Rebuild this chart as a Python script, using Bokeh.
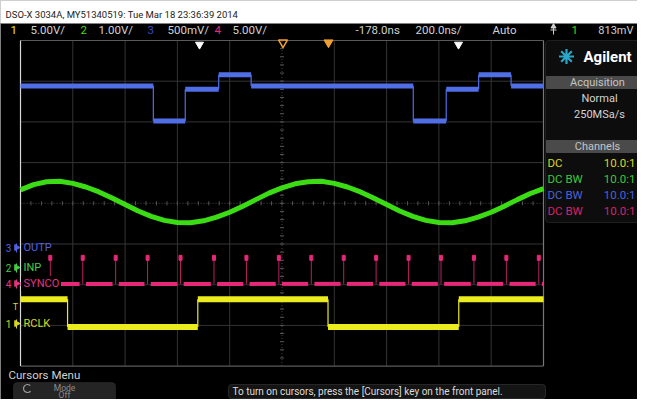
import numpy as np
from bokeh.plotting import figure
from bokeh.models import Range1d, BoxAnnotation
from bokeh.core.properties import value
from bokeh.embed import file_html
from bokeh.resources import INLINE

# ---------------- data (time in divisions of 200 ns, level in screen divisions) -------------
outp_t = [0.0, 2.54, 3.15, 3.79, 4.41, 7.51, 8.14, 8.76, 9.38, 10.0]
outp_v = [6.88, 6.02, 6.80, 7.16, 6.88, 6.02, 6.80, 7.16, 6.88]

inp_t = [0.0, 0.25, 0.5, 0.75, 1.0, 1.25, 1.5, 1.75, 2.0, 2.25, 2.5, 2.75, 3.0, 3.25,
         3.5, 3.75, 4.0, 4.25, 4.5, 4.75, 5.0, 5.25, 5.5, 5.75, 6.0, 6.25, 6.5, 6.75,
         7.0, 7.25, 7.5, 7.75, 8.0, 8.25, 8.5, 8.75, 9.0, 9.25, 9.5, 9.75, 10.0]
inp_v = [4.33, 4.46, 4.53, 4.54, 4.49, 4.40, 4.28, 4.13, 3.97, 3.81, 3.68, 3.58, 3.53, 3.52,
         3.57, 3.66, 3.78, 3.93, 4.09, 4.25, 4.38, 4.48, 4.53, 4.54, 4.49, 4.40, 4.28, 4.13,
         3.97, 3.81, 3.68, 3.58, 3.53, 3.52, 3.57, 3.66, 3.78, 3.93, 4.09, 4.24, 4.36]

sync_t = [0.57, 1.19, 1.82, 2.43, 3.06, 3.70, 4.32, 4.94, 5.56, 6.18, 6.80, 7.42, 8.04,
          8.67, 9.29, 9.91]
sync_low = 2.02
sync_high = 2.66

rclk_t = [0.0, 0.90, 3.39, 5.88, 8.38, 10.0]
rclk_v = [1.64, 0.96, 1.64, 0.96, 1.64]

trace_names = ["OUTP", "INP", "SYNCO", "RCLK"]
trace_nums = ["3", "2", "4", "1"]

title_text = "DSO-X 3034A, MY51340519: Tue Mar 18 23:36:39 2014"
status_text = ["1", "5.00V/", "2", "1.00V/", "3", "500mV/", "4", "5.00V/",
               "-178.0ns", "200.0ns/", "Auto", "1"]
status_right = "813mV"
chan_mode = ["DC", "DC BW", "DC BW", "DC BW"]
chan_probe = ["10.0:1", "10.0:1", "10.0:1", "10.0:1"]
message = "To turn on cursors, press the [Cursors] key on the front panel."

# ---------------- styling -------------
BLUE = "#506ee6"
GREEN = "#3cdc14"
MAG = "#e62878"
YEL = "#ebeb1e"
FONT = value("Roboto")

# screen-pixel helpers (picture pixels -> divisions)
X0, DX, Y0, DY = 20.0, 52.3, 365.6, 40.7


def PX(px):
    return (px - X0) / DX


def PY(py):
    return (Y0 - py) / DY


p = figure(width=637, height=399, x_range=Range1d(PX(0), PX(637)),
           y_range=Range1d(PY(399), PY(0)), output_backend="svg",
           toolbar_location=None, x_axis_type=None, y_axis_type=None,
           background_fill_color="black", border_fill_color="black",
           min_border=0, outline_line_color=None)
p.grid.visible = False

# white header band
p.quad(left=PX(0), right=PX(637), top=PY(0), bottom=PY(22.5), color="white")
p.text(x=[PX(5)], y=[PY(14)], text=[title_text], text_font=FONT,
       text_font_size="9.5px", text_color="#222222", text_baseline="middle")

# status bar
st_x = [10, 30, 80, 98, 147, 167, 214, 232, 355, 415, 492, 571]
st_c = [YEL, "#d0d0d0", GREEN, "#d0d0d0", "#3a48c8", "#d0d0d0", MAG, "#d0d0d0",
        "#d0d0d0", "#d0d0d0", "#d0d0d0", GREEN]
p.text(x=[PX(v) for v in st_x], y=[PY(29.5)] * len(st_x), text=status_text,
       text_color=st_c, text_font=FONT, text_font_size="11.5px", text_baseline="middle")
p.text(x=[PX(633)], y=[PY(29.5)], text=[status_right], text_color="#d0d0d0",
       text_font=FONT, text_font_size="11px", text_baseline="middle", text_align="right")
# trigger edge icon
p.segment(x0=[PX(553)], y0=[PY(34)], x1=[PX(553)], y1=[PY(25)], line_color="#d0d0d0", line_width=1)
p.segment(x0=[PX(550)], y0=[PY(29.5)], x1=[PX(556)], y1=[PY(29.5)], line_color="#d0d0d0", line_width=1)
p.scatter(x=[PX(553)], y=[PY(26)], marker="triangle", size=5, color="#d0d0d0")

# graticule
vk = [1, 2, 3, 4, 6, 7, 8, 9]
p.segment(x0=vk, y0=[0] * 8, x1=vk, y1=[8] * 8, line_color="#343434", line_width=1)
hk = [1, 2, 3, 5, 6, 7]
p.segment(x0=[0] * 6, y0=hk, x1=[10] * 6, y1=hk, line_color="#343434", line_width=1)
p.segment(x0=[5], y0=[0], x1=[5], y1=[8], line_color="#4a4a4a", line_width=1, line_dash="1 2")
p.segment(x0=[0], y0=[4], x1=[10], y1=[4], line_color="#4a4a4a", line_width=1, line_dash="1 2")
tx = list(np.arange(0.2, 10.0, 0.2))
p.segment(x0=tx, y0=[3.95] * len(tx), x1=tx, y1=[4.05] * len(tx), line_color="#555555")
ty = list(np.arange(0.2, 8.0, 0.2))
p.segment(x0=[4.96] * len(ty), y0=ty, x1=[5.04] * len(ty), y1=ty, line_color="#555555")
p.segment(x0=[0, 0], y0=[8, 0], x1=[10, 10], y1=[8, 0], line_color="#5a5a5a", line_width=1.2)
p.segment(x0=[10], y0=[0], x1=[10], y1=[8], line_color="#777777", line_width=1.2)
p.segment(x0=[0], y0=[0], x1=[0], y1=[8], line_color="#d8d8d8", line_width=1.2)

# top markers
p.scatter(x=[PX(199), PX(458)], y=[PY(44), PY(44)], marker="inverted_triangle",
          size=8, color="white")
p.scatter(x=[PX(282.5)], y=[PY(42)], marker="inverted_triangle", size=9,
          fill_color=None, line_color="#f0a030", line_width=1.5)
p.scatter(x=[PX(328)], y=[PY(42)], marker="inverted_triangle", size=9, color="#f0a030")

# ---- channel 3 : OUTP (blue)
p.segment(x0=outp_t[1:-1], y0=outp_v[:-1], x1=outp_t[1:-1], y1=outp_v[1:],
          line_color=BLUE, line_width=1.2)
p.segment(x0=outp_t[:-1], y0=outp_v, x1=outp_t[1:], y1=outp_v,
          line_color=BLUE, line_width=5)

# ---- channel 2 : INP (green)
p.line(inp_t, inp_v, line_color=GREEN, line_width=5)

# ---- channel 4 : SYNCO (magenta)
gap = 0.06
seg_s = [0.0] + [t + gap for t in sync_t]
seg_e = [t - gap for t in sync_t] + [10.0]
p.segment(x0=seg_s, y0=[sync_low] * len(seg_s), x1=seg_e, y1=[sync_low] * len(seg_s),
          line_color=MAG, line_width=4)
p.segment(x0=sync_t, y0=[sync_low] * len(sync_t), x1=sync_t, y1=[sync_high] * len(sync_t),
          line_color=MAG, line_width=1, line_alpha=0.8)
p.rect(x=sync_t, y=[sync_high] * len(sync_t), width=3, height=5, width_units="screen",
       height_units="screen", color=MAG)

# ---- channel 1 : RCLK (yellow)
p.segment(x0=rclk_t[1:-1], y0=rclk_v[:-1], x1=rclk_t[1:-1], y1=rclk_v[1:],
          line_color=YEL, line_width=1.2)
p.segment(x0=rclk_t[:-1], y0=rclk_v, x1=rclk_t[1:], y1=rclk_v,
          line_color=YEL, line_width=6)

# label backgrounds and labels
p.quad(left=PX(21), right=PX(60), top=PY(276), bottom=PY(290), color="black")
lab_y = [247, 267, 283, 323]
lab_c = ["#5262e6", "#44d044", "#e43482", "#d8d820"]
p.text(x=[PX(23)] * 4, y=[PY(v) for v in lab_y], text=trace_names, text_color=lab_c,
       text_font=FONT, text_font_size="11px", text_baseline="middle")
p.text(x=[PX(8)] * 4, y=[PY(v) for v in lab_y], text=trace_nums, text_color=lab_c,
       text_font=FONT, text_font_size="10px", text_baseline="middle", text_align="center")
p.scatter(x=[PX(16)] * 4, y=[PY(v) for v in lab_y], marker="triangle", angle=-np.pi / 2,
          size=6, color=lab_c)
p.segment(x0=[PX(16)] * 4, y0=[PY(v - 4) for v in lab_y], x1=[PX(16)] * 4,
          y1=[PY(v + 5) for v in lab_y], line_color=lab_c, line_width=1)
p.text(x=[PX(15)], y=[PY(306)], text=["T"], text_color="#d8d820", text_font=FONT,
       text_font_size="9px", text_baseline="middle", text_align="center")

# right panel
p.add_layout(BoxAnnotation(left=PX(545), right=PX(660), top=PY(40), bottom=PY(222),
                           fill_color="#0d0d0d", fill_alpha=1, line_color="#5a5a5a",
                           line_width=1.2, border_radius=4, level="underlay"))
p.scatter(x=[PX(566)], y=[PY(56)], marker="asterisk", size=15, line_color="#2aa7c9",
          line_width=2.2)
p.text(x=[PX(583)], y=[PY(56)], text=["Agilent"], text_color="white", text_font=FONT,
       text_font_style="bold", text_font_size="15px", text_baseline="middle")
p.quad(left=PX(546), right=PX(637), top=PY(76), bottom=PY(88), color="#4a4a4a")
p.quad(left=PX(546), right=PX(637), top=PY(140), bottom=PY(152), color="#4a4a4a")
p.text(x=[PX(597), PX(597)], y=[PY(82), PY(146)], text=["Acquisition", "Channels"],
       text_color="#c4c4c4", text_font=FONT, text_font_size="11px",
       text_baseline="middle", text_align="center")
p.text(x=[PX(599), PX(599)], y=[PY(98), PY(114)], text=["Normal", "250MSa/s"],
       text_color="#d4d4d4", text_font=FONT, text_font_size="11px",
       text_baseline="middle", text_align="center")
row_y = [162, 178, 194, 210]
row_c = ["#d8d820", "#3cc83c", "#4a62dc", "#d8206c"]
p.text(x=[PX(547)] * 4, y=[PY(v) for v in row_y], text=chan_mode, text_color=row_c,
       text_font=FONT, text_font_size="11.5px", text_baseline="middle")
p.text(x=[PX(635)] * 4, y=[PY(v) for v in row_y], text=chan_probe, text_color=row_c,
       text_font=FONT, text_font_size="11.5px", text_baseline="middle", text_align="right")

# bottom softkey area
p.text(x=[PX(8)], y=[PY(374)], text=["Cursors Menu"], text_color="#d0d0d0",
       text_font=FONT, text_font_size="11.5px", text_baseline="middle")
p.add_layout(BoxAnnotation(left=PX(13), right=PX(115), top=PY(382), bottom=PY(410),
                           fill_color="#242424", fill_alpha=1, line_color="#474747",
                           line_width=1, border_radius=4, level="underlay"))
p.arc(x=[PX(27)], y=[PY(388)], radius=4, radius_units="screen", start_angle=0.8,
      end_angle=5.6, line_color="#9a9a9a", line_width=1.2)
p.text(x=[PX(64), PX(64)], y=[PY(387), PY(394.5)], text=["Mode", "Off"],
       text_color="#8c8c8c", text_font=FONT, text_font_size="8.5px",
       text_baseline="middle", text_align="center")
p.add_layout(BoxAnnotation(left=PX(228), right=PX(545), top=PY(384), bottom=PY(398),
                           fill_color="#141414", fill_alpha=1, line_color="#6a6a6a",
                           line_width=1, border_radius=3, level="underlay"))
p.text(x=[PX(232)], y=[PY(391)], text=[message], text_color="#dcdcdc",
       text_font=FONT, text_font_size="10px", text_baseline="middle")

open("out.html", "w").write(file_html(p, INLINE))
